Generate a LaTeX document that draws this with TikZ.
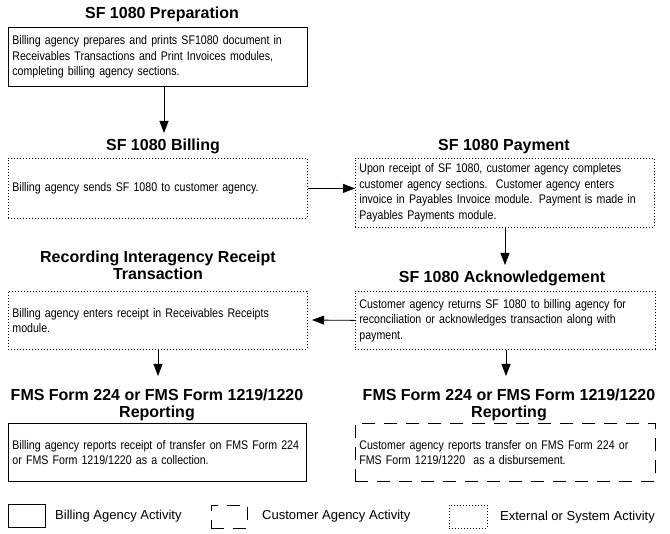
\documentclass[tikz,border=0pt]{standalone}
\usepackage{fontspec}
\setmainfont{Liberation Sans}
\newfontfamily\bodyfont[FakeStretch=0.85,WordSpace=0.7]{Liberation Sans}
\usetikzlibrary{arrows.meta}
\begin{document}
\begin{tikzpicture}[x=1pt,y=-1pt,
 box/.style={draw, line width=0.8pt, anchor=north west, inner xsep=4pt, inner ysep=0pt, align=left, font=\bodyfont\fontsize{12.5}{15.5}\selectfont},
 solidbox/.style={box},
 dotbox/.style={box, dash pattern=on 1pt off 2pt},
 dashbox/.style={box, dash pattern=on 13pt off 9pt},
 titletext/.style={anchor=base, inner sep=0pt, align=center, font=\fontsize{16}{17.5}\selectfont\bfseries},
 legendtext/.style={anchor=west, inner sep=0pt, font=\fontsize{13}{15}\selectfont},
 arr/.style={line width=0.8pt, -{Triangle[length=12pt,width=9pt]}}]
\useasboundingbox (0,0) rectangle (670,534);

% titles (base anchor = baseline of the last line)
\node[titletext] (prepT) at (162,19) {SF 1080 Preparation};
\node[titletext] (billT) at (163,151) {SF 1080 Billing};
\node[titletext] (payT) at (504,151) {SF 1080 Payment};
\node[titletext] (ackT) at (502,283) {SF 1080 Acknowledgement};
\node[titletext] (recT) at (158,280) {Recording Interagency Receipt\\Transaction};
\node[titletext] (fmsLT) at (157,418) {FMS Form 224 or FMS Form 1219/1220\\Reporting};
\node[titletext] (fmsRT) at (509,418) {FMS Form 224 or FMS Form 1219/1220\\Reporting};

% boxes
\node[solidbox, minimum width=299pt, minimum height=59pt, text width=291pt] (prep) at (8,27)
 {Billing agency prepares and prints SF1080 document in\\Receivables Transactions and Print Invoices modules,\\completing billing agency sections.};
\node[dotbox, minimum width=299pt, minimum height=60pt, text width=291pt] (bill) at (8,158)
 {Billing agency sends SF 1080 to customer agency.};
\node[dotbox, minimum width=299pt, minimum height=69pt, text width=291pt] (pay) at (355,158)
 {Upon receipt of SF 1080, customer agency completes\\customer agency sections.\ \ Customer agency enters\\invoice in Payables Invoice module. Payment is made in\\Payables Payments module.};
\node[dotbox, minimum width=300pt, minimum height=58pt, text width=292pt] (ack) at (355,291)
 {Customer agency returns SF 1080 to billing agency for\\reconciliation or acknowledges transaction along with\\payment.};
\node[dotbox, minimum width=299pt, minimum height=58pt, text width=291pt] (rec) at (8,291)
 {Billing agency enters receipt in Receivables Receipts\\module.};
\node[solidbox, minimum width=298pt, minimum height=58pt, text width=290pt] (fmsL) at (8,423)
 {Billing agency reports receipt of transfer on FMS Form 224\\or FMS Form 1219/1220 as a collection.};
\node[dashbox, minimum width=300pt, minimum height=58pt, text width=292pt] (fmsR) at (355,423)
 {Customer agency reports transfer on FMS Form 224 or\\FMS Form 1219/1220\ \ as a disbursement.};

% arrow tips
\coordinate (t1) at (164,133);
\coordinate (t3) at (505,265);
\coordinate (t4) at (312,320);
\coordinate (t5) at (158,376);
\coordinate (t6) at (506,376);

\draw[arr] (prep.south -| t1) -- (t1);
\draw[arr] (bill.east) -- (bill.east -| pay.west);
\draw[arr] (pay.south -| t3) -- (t3);
\draw[arr] (ack.west) -- (t4);
\draw[arr] (rec.south -| t5) -- (t5);
\draw[arr] (ack.south -| t6) -- (t6);

% legend
\node[solidbox, minimum width=37pt, minimum height=23pt] (lg1) at (8,504) {};
\node[legendtext] (lt1) at (55,516) {Billing Agency Activity};
\node[dashbox, minimum width=36pt, minimum height=23pt] (lg2) at (211,505) {};
\node[legendtext] (lt2) at (262,516) {Customer Agency Activity};
\node[dotbox, minimum width=38pt, minimum height=23pt] (lg3) at (449,505) {};
\node[legendtext] (lt3) at (500,517) {External or System Activity};
\end{tikzpicture}
\end{document}
